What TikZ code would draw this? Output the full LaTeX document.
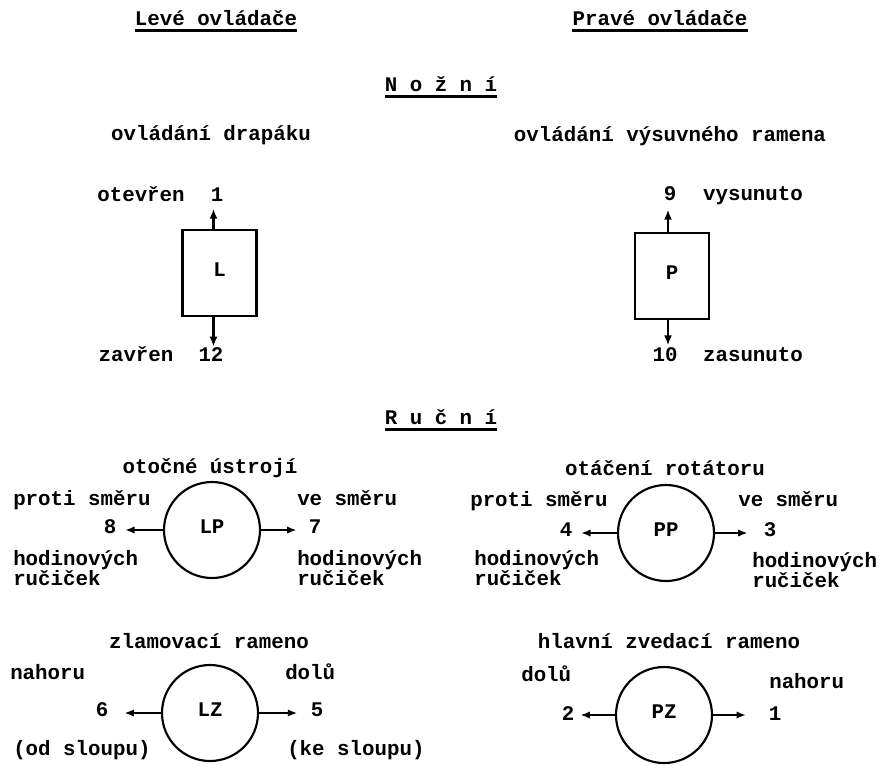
\documentclass[tikz,border=0pt]{standalone}
\usepackage{fontspec}
\setmainfont{Liberation Mono}
\usetikzlibrary{arrows.meta}
\newcommand{\twfont}{\fontsize{15.6pt}{18pt}\selectfont\bfseries}
\begin{document}
\begin{tikzpicture}[x=0.75pt,y=-0.75pt,
  every node/.style={font=\twfont, inner sep=0pt, text height=1.5ex, text depth=0.5ex},
  boxn/.style={draw, line width=2pt, minimum width=55.5pt, minimum height=64.5pt},
  circ/.style={draw, circle, line width=1.6pt, minimum size=72pt},
  uline/.style={line width=2.2pt},
  arr/.style={-{Latex[length=7pt,width=5.5pt]}, line width=1.3pt},
  barr/.style={-{Latex[length=7.5pt,width=6pt]}, line width=1.8pt}]
\path[use as bounding box, fill=white] (0,0) rectangle (882,765);

% titles
\node (tL) at (216,22) {Levé ovládače};
\node (tR) at (660,22) {Pravé ovládače};
\node (nz) at (441,88) {N o ž n í};
\node (rc) at (441,421) {R u č n í};
\draw[uline] ([yshift=-0.8pt]tL.south west) -- ([yshift=-0.8pt]tL.south east);
\draw[uline] ([yshift=-0.8pt]tR.south west) -- ([yshift=-0.8pt]tR.south east);
\draw[uline] ([yshift=-0.8pt]nz.south west) -- ([yshift=-0.8pt]nz.south east);
\draw[uline] ([yshift=-0.8pt]rc.south west) -- ([yshift=-0.8pt]rc.south east);

% Nozni
\node (hL) at (211,137) {ovládání drapáku};
\node (hR) at (670,138) {ovládání výsuvného ramena};
\node[boxn] (L) at (219.5,273) {L};
\node[boxn] (P) at (672,276) {P};
\node (n1a) at (217,198) {1};
\node (otv) at (141,198) {otevřen};
\node (n12) at (211,358) {12};
\node (zav) at (136,358) {zavřen};
\node (n9) at (670,197) {9};
\node (vys) at (753,197) {vysunuto};
\node (n10) at (665,358) {10};
\node (zas) at (753,358) {zasunuto};
\draw[barr, shorten >=2.5pt] ([xshift=-4.5pt]L.north) -- ([xshift=-4.5pt]L.north |- n1a.south);
\draw[barr, shorten >=3pt] ([xshift=-4.5pt]L.south) -- ([xshift=-4.5pt]L.south |- n12.north);
\draw[barr, shorten >=4pt] ([xshift=-3pt]P.north) -- ([xshift=-3pt]P.north |- n9.south);
\draw[barr, shorten >=4pt] ([xshift=-3pt]P.south) -- ([xshift=-3pt]P.south |- n10.north);

% Rucni - LP
\node[circ] (LP) at (212,530) {LP};
\node (otu) at (210,470) {otočné ústrojí};
\node[anchor=west] (psL) at (13,502) {proti směru};
\node (n8) at (110,530) {8};
\node[anchor=west] (vsL) at (297,502) {ve směru};
\node (n7) at (315,530) {7};
\node[anchor=west] (hL1) at (13,562) {hodinových};
\node[anchor=west] (rL1) at (13,582) {ručiček};
\node[anchor=west] (hR1) at (297,562) {hodinových};
\node[anchor=west] (rR1) at (297,582) {ručiček};
\draw[arr, shorten >=6.5pt] (LP.west) -- (LP.west -| n8.east);
\draw[arr, shorten >=9pt] (LP.east) -- (LP.east -| n7.west);

% PP
\node[circ] (PP) at (666,533) {PP};
\node (otr) at (665,472) {otáčení rotátoru};
\node[anchor=west] (psR) at (470,503) {proti směru};
\node (n4) at (566,533) {4};
\node[anchor=west] (vsR) at (738,503) {ve směru};
\node (n3) at (770,533) {3};
\node[anchor=west] (hL2) at (474,562) {hodinových};
\node[anchor=west] (rL2) at (474,582) {ručiček};
\node[anchor=west] (hR2) at (752,564) {hodinových};
\node[anchor=west] (rR2) at (752,584) {ručiček};
\draw[arr, shorten >=6.5pt] (PP.west) -- (PP.west -| n4.east);
\draw[arr, shorten >=12pt] (PP.east) -- (PP.east -| n3.west);

% LZ
\node[circ] (LZ) at (210,713) {LZ};
\node (zr) at (209,645) {zlamovací rameno};
\node[anchor=west] (nah1) at (10,676) {nahoru};
\node[anchor=west] (dol1) at (285,676) {dolů};
\node (n6) at (102,713) {6};
\node (n5) at (317,713) {5};
\node[anchor=west] (ods) at (13,752) {(od sloupu)};
\node[anchor=west] (kes) at (287,752) {(ke sloupu)};
\draw[arr, shorten >=12pt] (LZ.west) -- (LZ.west -| n6.east);
\draw[arr, shorten >=10pt] (LZ.east) -- (LZ.east -| n5.west);

% PZ
\node[circ] (PZ) at (664,715) {PZ};
\node (hzr) at (669,645) {hlavní zvedací rameno};
\node[anchor=west] (dol2) at (521,678) {dolů};
\node[anchor=west] (nah2) at (769,685) {nahoru};
\node (n2) at (568,717) {2};
\node (n1b) at (775,717) {1};
\draw[arr, shorten >=4.5pt] (PZ.west) -- (PZ.west -| n2.east);
\draw[arr, shorten >=17pt] (PZ.east) -- (PZ.east -| n1b.west);
\end{tikzpicture}
\end{document}
